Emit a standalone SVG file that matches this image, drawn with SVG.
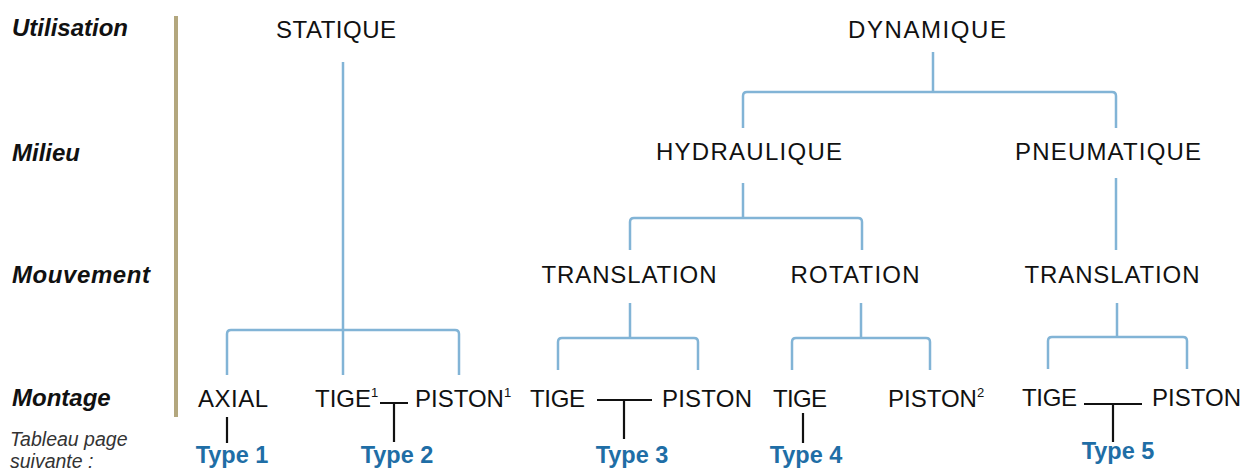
<svg xmlns="http://www.w3.org/2000/svg" width="1244" height="473" viewBox="0 0 1244 473">
<style>
.lab{font-family:"Liberation Sans",Arial,sans-serif;font-size:24px;font-weight:bold;font-style:italic;fill:#111}
.note{font-family:"Liberation Sans",Arial,sans-serif;font-size:19.5px;font-style:italic;fill:#333}
.n{font-family:"Liberation Sans",Arial,sans-serif;font-size:24px;fill:#111;text-anchor:middle}
.nl{font-family:"Liberation Sans",Arial,sans-serif;font-size:24px;fill:#111}
.sup{font-size:13px}
.t{font-family:"Liberation Sans",Arial,sans-serif;font-size:23.5px;font-weight:bold;fill:#1f6ea6;text-anchor:middle}
.b{fill:none;stroke:#82b4d6;stroke-width:2.5;stroke-linejoin:round}
.k{fill:none;stroke:#111;stroke-width:2.2}
</style>
<rect x="174" y="16" width="4" height="401" fill="#b3a77e"/>
<g id="labels">
<text class="lab" x="12" y="36">Utilisation</text>
<text class="lab" x="12" y="161">Milieu</text>
<text class="lab" x="12" y="283" textLength="138">Mouvement</text>
<text class="lab" x="12" y="406">Montage</text>
<text class="note" x="10" y="446">Tableau page</text>
<text class="note" x="10" y="468">suivante :</text>
</g>
<g id="connectors">
<path class="b" d="M343 62V330M227 375V334Q227 330 231 330H455Q459 330 459 334V375M343 330V375"/>
<path class="b" d="M933 52V92M743 128V96Q743 92 747 92H1112Q1116 92 1116 96V128"/>
<path class="b" d="M743 183V218M630 250V222Q630 218 634 218H858Q862 218 862 222V250"/>
<path class="b" d="M1116 178V250"/>
<path class="b" d="M630 303V338M558 370V342Q558 338 562 338H694Q698 338 698 342V370"/>
<path class="b" d="M861 303V338M792 370V342Q792 338 796 338H926Q930 338 930 342V370"/>
<path class="b" d="M1117 303V337M1048 369V341Q1048 337 1052 337H1183Q1187 337 1187 341V369"/>
<path class="k" d="M227 417V443"/>
<path class="k" d="M380 403H408M394 403V442"/>
<path class="k" d="M597 400H652M624 400V439"/>
<path class="k" d="M803 413V443"/>
<path class="k" d="M1084 404H1142M1113 404V442"/>
</g>
<g id="statique"><text class="n" x="336" y="38" textLength="120">STATIQUE</text></g>
<g id="dynamique"><text class="n" x="927" y="38" textLength="158">DYNAMIQUE</text></g>
<g id="hydraulique"><text class="n" x="749" y="160" textLength="186">HYDRAULIQUE</text></g>
<g id="pneumatique"><text class="n" x="1108" y="160" textLength="186">PNEUMATIQUE</text></g>
<g id="translation1"><text class="n" x="629" y="283" textLength="175">TRANSLATION</text></g>
<g id="rotation"><text class="n" x="855" y="283" textLength="129">ROTATION</text></g>
<g id="translation2"><text class="n" x="1112" y="283" textLength="175">TRANSLATION</text></g>
<g id="axial"><text class="nl" x="198" y="407" textLength="70">AXIAL</text></g>
<g id="tige1"><text class="nl" x="315" y="407">TIGE<tspan class="sup" dy="-10">1</tspan></text></g>
<g id="piston1"><text class="nl" x="415" y="407">PISTON<tspan class="sup" dy="-10">1</tspan></text></g>
<g id="tige3"><text class="nl" x="530" y="407" textLength="55">TIGE</text></g>
<g id="piston3"><text class="nl" x="662" y="407" textLength="90">PISTON</text></g>
<g id="tige4"><text class="nl" x="773" y="407" textLength="54">TIGE</text></g>
<g id="piston4"><text class="nl" x="888" y="407">PISTON<tspan class="sup" dy="-10">2</tspan></text></g>
<g id="tige5"><text class="nl" x="1022" y="406" textLength="55">TIGE</text></g>
<g id="piston5"><text class="nl" x="1152" y="406" textLength="89">PISTON</text></g>
<g id="types">
<text class="t" x="232" y="463">Type 1</text>
<text class="t" x="397" y="463">Type 2</text>
<text class="t" x="632" y="463">Type 3</text>
<text class="t" x="806" y="463">Type 4</text>
<text class="t" x="1118" y="459">Type 5</text>
</g>
</svg>
